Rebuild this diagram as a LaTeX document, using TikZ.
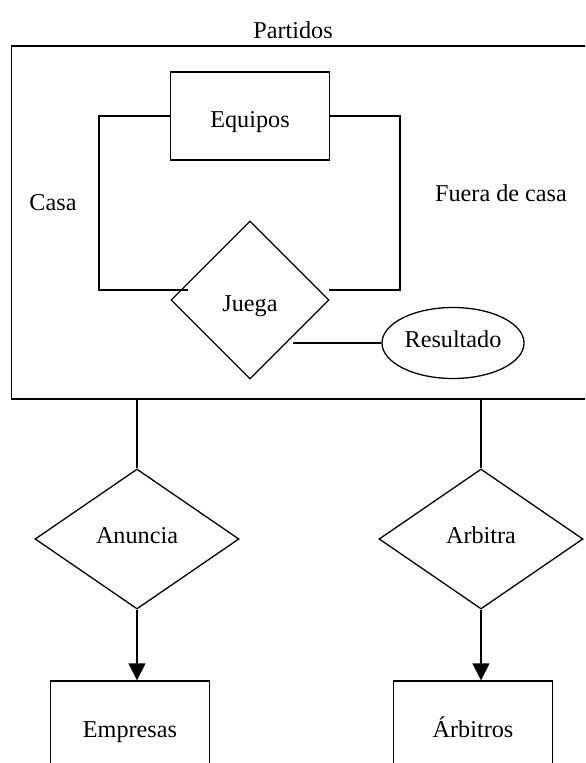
\documentclass[tikz,border=0pt]{standalone}
\usepackage{fontspec}
\setmainfont{Liberation Serif}
\usetikzlibrary{calc}
\usetikzlibrary{shapes.geometric}
\usetikzlibrary{arrows.meta}
\usetikzlibrary{positioning}
\tikzset{
	entidad/.style={rectangle, draw, minimum width=79.25pt, minimum height=44pt, text height=12pt, text depth=0pt},
	relacion/.style={diamond, draw, inner sep=0pt},
	atributo/.style={ellipse, draw, inner sep=0pt, minimum width=71pt, minimum height=35.5pt, text height=5pt, text depth=0pt},
	arrow/.style={draw, -{Triangle[length=8.5pt,width=8.5pt]}}
}

\begin{document}
\begin{tikzpicture}[x=0.5pt, y=-0.5pt, line width=0.65pt, font=\fontsize{12.1}{14}\selectfont]

\useasboundingbox (0,0) rectangle (585,763);
\clip (0,0) rectangle (585,763);

\node[rectangle, draw, minimum width=294.25pt, minimum height=176.5pt] (partidos) at (305.75,222.5) {};
\node (titulo) at (293,30) {Partidos};

\node[entidad] (equipos) at (250,116) {Equipos};
\node[relacion, minimum width=79pt, minimum height=79pt, text height=12pt, text depth=0pt] (juega) at (250,300) {Juega};
\node[atributo] (resultado) at (453,343) {Resultado};

\node (casa) at (53,203) {Casa};
\node (fuera) at (501,193) {Fuera de casa};

\coordinate (casafin) at ($(juega.west)+(18,-10)$);
\coordinate (fuerafin) at ($(juega.east)+(-1,-10)$);
\coordinate (resfin) at ($(juega.center)+(43,43)$);

\draw (equipos.west) -- ++(-71,0) |- (casafin);
\draw (equipos.east) -- ++(70,0) |- (fuerafin);
\draw (resfin) -- (resfin -| resultado.west);

\node[relacion, minimum width=102pt, minimum height=70pt, text height=4pt, text depth=0pt] (anuncia) at (137,539) {Anuncia};
\node[relacion, minimum width=102pt, minimum height=70pt, text height=4pt, text depth=0pt] (arbitra) at (481,539) {Arbitra};

\node[entidad] (empresas) at (130,725) {Empresas};
\node[entidad] (arbitros) at (473,725) {Árbitros};

\draw (anuncia.north) -- (anuncia.north |- partidos.south);
\draw (arbitra.north) -- (arbitra.north |- partidos.south);
\draw [arrow] (anuncia.south) -- (anuncia.south |- empresas.north);
\draw [arrow] (arbitra.south) -- (arbitra.south |- arbitros.north);

\end{tikzpicture}
\end{document}
